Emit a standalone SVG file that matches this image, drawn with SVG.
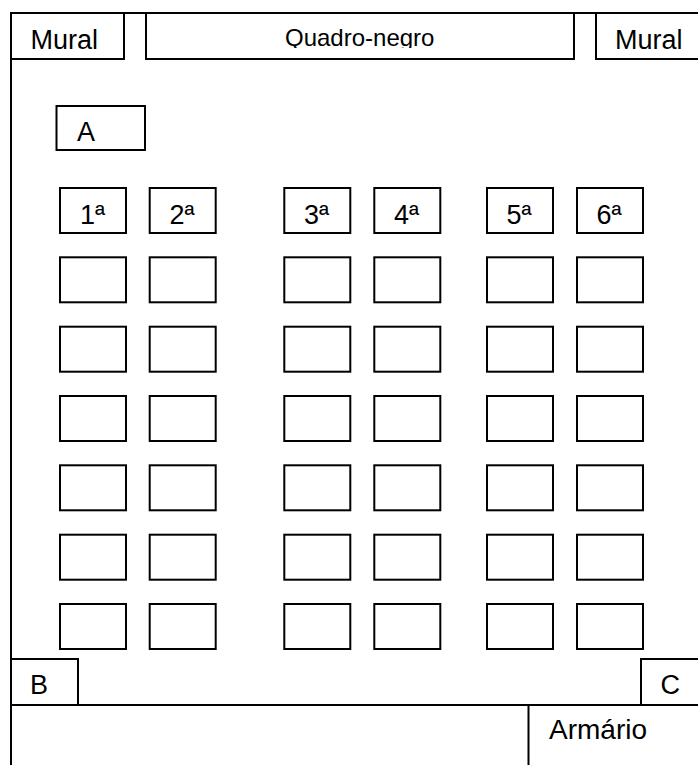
<svg xmlns="http://www.w3.org/2000/svg" width="698" height="765" viewBox="0 0 698 765">
<style>
.b{fill:#fff;stroke:#000;stroke-width:2}
.w{fill:none;stroke:#000;stroke-width:2}
.t{font-family:"Liberation Sans",Arial,sans-serif;font-size:27px;fill:#000}
.q{font-size:24px}
</style>
<defs>
<clipPath id="qclip"><rect x="146" y="13" width="428" height="35"/></clipPath>
</defs>
<rect width="698" height="765" fill="#fff"/>
<g id="walls">
<path class="w" d="M11,13 H700 M11,13 V765 M11,705 H700 M528.5,705 V765"/>
</g>
<g id="mural-left"><rect class="b" x="11" y="13" width="113" height="46"/><text class="t" x="30.5" y="49.3">Mural</text></g>
<g id="quadro-negro"><rect class="b" x="146" y="13" width="428" height="46"/><text class="t q" x="285" y="45.7" clip-path="url(#qclip)">Quadro-negro</text></g>
<g id="mural-right"><rect class="b" x="596" y="13" width="110" height="46"/><text class="t" x="615" y="49.3">Mural</text></g>
<g id="A"><rect class="b" x="56.5" y="106" width="88.5" height="44"/><text class="t" x="77" y="140.7">A</text></g>
<g id="B"><rect class="b" x="11" y="659" width="67" height="46"/><text class="t" x="30" y="694">B</text></g>
<g id="C"><rect class="b" x="641" y="659" width="65" height="46"/><text class="t" x="660.5" y="693.5">C</text></g>
<g id="armario"><text class="t" x="549" y="739.3" style="font-size:28px">Armário</text></g>
<g id="fila1"><rect class="b" x="60" y="188" width="66" height="45"/><text class="t" x="80" y="223.5">1ª</text></g>
<g id="fila2"><rect class="b" x="149.7" y="188" width="66" height="45"/><text class="t" x="169.5" y="223.5">2ª</text></g>
<g id="fila3"><rect class="b" x="284.3" y="188" width="66" height="45"/><text class="t" x="304" y="223.5">3ª</text></g>
<g id="fila4"><rect class="b" x="374.3" y="188" width="66" height="45"/><text class="t" x="394" y="223.5">4ª</text></g>
<g id="fila5"><rect class="b" x="487" y="188" width="66" height="45"/><text class="t" x="506.5" y="223.5">5ª</text></g>
<g id="fila6"><rect class="b" x="577" y="188" width="66" height="45"/><text class="t" x="596.5" y="223.5">6ª</text></g>
<g id="carteiras">
<rect class="b" x="60" y="257.3" width="66" height="45"/><rect class="b" x="149.7" y="257.3" width="66" height="45"/><rect class="b" x="284.3" y="257.3" width="66" height="45"/><rect class="b" x="374.3" y="257.3" width="66" height="45"/><rect class="b" x="487" y="257.3" width="66" height="45"/><rect class="b" x="577" y="257.3" width="66" height="45"/>
<rect class="b" x="60" y="326.7" width="66" height="45"/><rect class="b" x="149.7" y="326.7" width="66" height="45"/><rect class="b" x="284.3" y="326.7" width="66" height="45"/><rect class="b" x="374.3" y="326.7" width="66" height="45"/><rect class="b" x="487" y="326.7" width="66" height="45"/><rect class="b" x="577" y="326.7" width="66" height="45"/>
<rect class="b" x="60" y="396" width="66" height="45"/><rect class="b" x="149.7" y="396" width="66" height="45"/><rect class="b" x="284.3" y="396" width="66" height="45"/><rect class="b" x="374.3" y="396" width="66" height="45"/><rect class="b" x="487" y="396" width="66" height="45"/><rect class="b" x="577" y="396" width="66" height="45"/>
<rect class="b" x="60" y="465.3" width="66" height="45"/><rect class="b" x="149.7" y="465.3" width="66" height="45"/><rect class="b" x="284.3" y="465.3" width="66" height="45"/><rect class="b" x="374.3" y="465.3" width="66" height="45"/><rect class="b" x="487" y="465.3" width="66" height="45"/><rect class="b" x="577" y="465.3" width="66" height="45"/>
<rect class="b" x="60" y="534.7" width="66" height="45"/><rect class="b" x="149.7" y="534.7" width="66" height="45"/><rect class="b" x="284.3" y="534.7" width="66" height="45"/><rect class="b" x="374.3" y="534.7" width="66" height="45"/><rect class="b" x="487" y="534.7" width="66" height="45"/><rect class="b" x="577" y="534.7" width="66" height="45"/>
<rect class="b" x="60" y="604" width="66" height="45"/><rect class="b" x="149.7" y="604" width="66" height="45"/><rect class="b" x="284.3" y="604" width="66" height="45"/><rect class="b" x="374.3" y="604" width="66" height="45"/><rect class="b" x="487" y="604" width="66" height="45"/><rect class="b" x="577" y="604" width="66" height="45"/>
</g>
</svg>
